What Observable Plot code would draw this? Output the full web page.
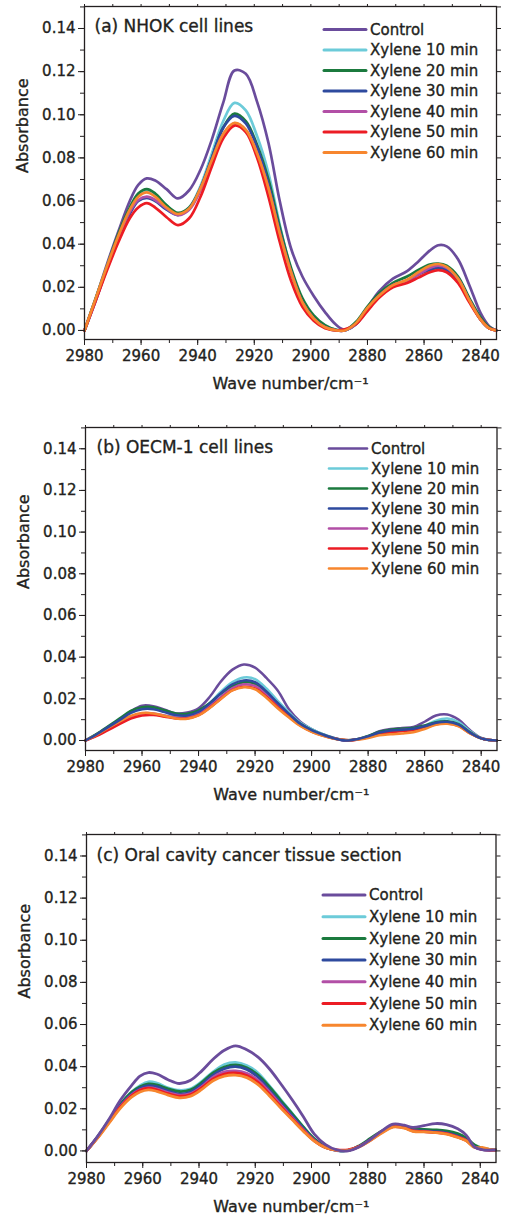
<!DOCTYPE html>
<html><head><meta charset="utf-8">
<script src="https://cdn.jsdelivr.net/npm/d3@7"></script>
<script src="https://cdn.jsdelivr.net/npm/@observablehq/plot@0.6"></script>
<style>
body{margin:0;background:#fff;width:508px;}
#chart svg{display:block}
#chart svg text{stroke:#231f20;stroke-width:0.35px;}
</style></head><body><div id="chart"></div>
<script>
const seriesNames = ["Control","Xylene 10 min","Xylene 20 min","Xylene 30 min","Xylene 40 min","Xylene 50 min","Xylene 60 min"];
const seriesColors = ["#6a4c9c","#6ccbd9","#1b7a3e","#2e4a9e","#b24fa6","#ec1c24","#f7862e"];
const xTickLabels = [2980,2960,2940,2920,2900,2880,2860,2840];
const yTickLabels = [0,0.02,0.04,0.06,0.08,0.10,0.12,0.14];

// ---- Panel (a) NHOK cell lines ----
const wnA = [2980,2976,2972,2968,2964,2961,2958,2955,2951,2947,2943,2939,2935,2931,2927,2923,2919,2915,2911,2907,2903,2899,2895,2891,2888,2884,2880,2876,2871,2866,2862,2858,2855,2852,2848,2844,2840,2837,2834.5];
const aControl = [0,0.015,0.031,0.046,0.060,0.0675,0.0705,0.0695,0.0655,0.0612,0.065,0.0745,0.0885,0.1055,0.1205,0.119,0.106,0.087,0.060,0.038,0.025,0.016,0.0085,0.0025,0.0003,0.003,0.0105,0.018,0.024,0.0275,0.032,0.037,0.0395,0.039,0.033,0.021,0.008,0.002,0];
const a10 = [0,0.015,0.030,0.044,0.056,0.063,0.065,0.063,0.058,0.054,0.057,0.067,0.082,0.097,0.1055,0.102,0.090,0.073,0.049,0.028,0.014,0.006,0.002,0.0003,0,0.003,0.010,0.016,0.021,0.023,0.026,0.029,0.030,0.029,0.024,0.014,0.005,0.001,0];
const a20 = [0,0.015,0.030,0.045,0.057,0.0635,0.0655,0.0635,0.058,0.0545,0.057,0.066,0.080,0.094,0.1005,0.097,0.086,0.070,0.048,0.029,0.015,0.007,0.0025,0.0003,0,0.004,0.011,0.017,0.022,0.025,0.028,0.0305,0.031,0.030,0.025,0.015,0.006,0.0015,0];
const a30 = [0,0.014,0.029,0.043,0.054,0.060,0.0615,0.060,0.056,0.0535,0.0565,0.066,0.080,0.094,0.0995,0.096,0.085,0.068,0.046,0.027,0.013,0.0055,0.0015,0,0,0.003,0.010,0.016,0.021,0.023,0.026,0.028,0.029,0.028,0.023,0.014,0.005,0.001,0];
const a40 = [0,0.014,0.029,0.043,0.055,0.0605,0.062,0.0605,0.0565,0.0535,0.056,0.065,0.078,0.091,0.096,0.093,0.082,0.066,0.045,0.027,0.013,0.0055,0.0015,0,0,0.003,0.010,0.016,0.021,0.023,0.026,0.029,0.030,0.029,0.024,0.014,0.005,0.001,0];
const a50 = [0,0.014,0.028,0.041,0.052,0.057,0.059,0.057,0.0525,0.0488,0.052,0.062,0.076,0.089,0.095,0.092,0.080,0.062,0.041,0.023,0.011,0.0045,0.001,0,0.0005,0.003,0.009,0.015,0.020,0.022,0.0245,0.027,0.028,0.027,0.022,0.013,0.005,0.001,0];
const a60 = [0,0.015,0.030,0.044,0.056,0.062,0.064,0.062,0.057,0.054,0.0565,0.066,0.079,0.091,0.0962,0.093,0.082,0.066,0.045,0.027,0.013,0.0055,0.0015,0,0,0.0035,0.0105,0.016,0.021,0.0235,0.027,0.030,0.0308,0.0295,0.024,0.014,0.005,0.001,0];

// ---- Panel (b) OECM-1 cell lines ----
const wnB = [2980,2976,2972,2968,2964,2960,2956,2952,2948,2944,2940,2936,2932,2928,2924,2920,2916,2912,2908,2904,2900,2896,2892,2888,2884,2880,2876,2872,2868,2864,2860,2856,2852,2848,2844,2840,2837,2834.5];
const bControl = [0,0.003,0.0065,0.010,0.014,0.0167,0.0165,0.0148,0.013,0.0135,0.0155,0.021,0.0285,0.034,0.0365,0.035,0.030,0.024,0.015,0.009,0.0055,0.003,0.0012,0,0.0005,0.002,0.0045,0.0055,0.006,0.0065,0.009,0.012,0.0125,0.010,0.005,0.0012,0.0002,0];
const b10 = [0,0.003,0.0062,0.0098,0.0133,0.0154,0.0153,0.0138,0.012,0.0118,0.0140,0.018,0.0235,0.028,0.0302,0.0295,0.025,0.019,0.0135,0.0085,0.0055,0.003,0.0012,0.0002,0.0005,0.0018,0.0035,0.0045,0.005,0.0055,0.007,0.0095,0.0105,0.0088,0.0045,0.0012,0.0002,0];
const b20 = [0,0.0032,0.0068,0.0105,0.0142,0.0160,0.0160,0.0145,0.0130,0.0128,0.0145,0.018,0.0225,0.026,0.0280,0.0272,0.023,0.0175,0.0125,0.008,0.005,0.0028,0.001,0.0001,0.0006,0.0022,0.0042,0.0052,0.0056,0.006,0.0072,0.0088,0.0092,0.0078,0.004,0.001,0.0002,0];
const b30 = [0,0.003,0.0064,0.0098,0.0132,0.0150,0.0150,0.0136,0.0122,0.0120,0.0138,0.0178,0.0228,0.027,0.0288,0.0280,0.0235,0.018,0.0128,0.008,0.005,0.0028,0.001,0,0.0006,0.002,0.0038,0.0048,0.0052,0.0056,0.0068,0.0085,0.0090,0.0076,0.0038,0.001,0.0002,0];
const b40 = [0,0.0025,0.0055,0.0085,0.0115,0.0130,0.0130,0.0120,0.0110,0.0110,0.0128,0.0165,0.021,0.0252,0.027,0.0262,0.022,0.0168,0.012,0.0075,0.0045,0.0025,0.001,0,0.0005,0.0018,0.0035,0.0045,0.005,0.0054,0.0066,0.0082,0.0087,0.0074,0.0037,0.001,0.0002,0];
const b50 = [0,0.0022,0.005,0.0078,0.0105,0.0120,0.0122,0.0114,0.0106,0.0106,0.0122,0.0158,0.0202,0.0242,0.0258,0.025,0.021,0.016,0.0115,0.0072,0.0043,0.0024,0.001,0.0002,0.0004,0.0015,0.003,0.004,0.0045,0.005,0.0062,0.0078,0.0082,0.007,0.0035,0.001,0.0002,0];
const b60 = [0,0.0028,0.006,0.009,0.0118,0.0132,0.0130,0.0118,0.0106,0.0104,0.0120,0.0156,0.020,0.024,0.0255,0.0246,0.0205,0.0155,0.011,0.007,0.0042,0.0022,0.0008,0.0002,0.0003,0.0012,0.0025,0.003,0.0034,0.004,0.0055,0.0075,0.0080,0.0068,0.0034,0.001,0.0002,0];

// ---- Panel (c) Oral cavity cancer tissue section ----
const wnC = [2980,2976,2972,2968,2964,2961,2958,2955,2951,2947,2943,2939,2935,2931,2927,2923,2919,2915,2911,2907,2903,2899,2895,2891,2887,2883,2879,2875,2871,2867,2864,2860,2856,2852,2848,2845,2842,2839,2836,2834.5];
const cControl = [0,0.007,0.015,0.024,0.031,0.0355,0.0372,0.0365,0.0338,0.0320,0.0335,0.038,0.0435,0.0478,0.0499,0.048,0.0445,0.039,0.032,0.0245,0.0165,0.008,0.003,0.0005,0,0.002,0.0055,0.0095,0.0127,0.0122,0.0112,0.012,0.013,0.0125,0.0105,0.0075,0.0018,0.0005,0.0004,0.0004];
const c10 = [0,0.0068,0.0145,0.022,0.028,0.031,0.0328,0.0322,0.030,0.0288,0.0295,0.033,0.0375,0.041,0.042,0.0405,0.037,0.031,0.0245,0.018,0.0115,0.0055,0.0018,0.0003,0.0002,0.0022,0.0055,0.0092,0.012,0.0115,0.010,0.0095,0.0092,0.0085,0.007,0.0052,0.002,0.0006,0.0004,0.0004];
const c20 = [0,0.0068,0.0145,0.022,0.0278,0.0305,0.0318,0.0313,0.0295,0.0282,0.029,0.0325,0.037,0.0398,0.0408,0.0395,0.036,0.0305,0.024,0.0178,0.0115,0.0058,0.002,0.0003,0.0002,0.0025,0.006,0.0095,0.0122,0.0118,0.0105,0.0102,0.0100,0.0095,0.0082,0.0062,0.0028,0.0012,0.0006,0.0005];
const c30 = [0,0.0067,0.014,0.0215,0.027,0.0298,0.031,0.0305,0.0285,0.027,0.028,0.0315,0.036,0.039,0.040,0.0387,0.035,0.029,0.0228,0.0168,0.0108,0.0052,0.0016,0.0002,0.0002,0.0022,0.0055,0.009,0.0118,0.0112,0.0098,0.0095,0.0092,0.0086,0.007,0.0052,0.002,0.0006,0.0004,0.0004];
const c40 = [0,0.0065,0.0138,0.021,0.0265,0.029,0.030,0.0295,0.0277,0.0265,0.0272,0.0305,0.035,0.0375,0.038,0.0368,0.0335,0.028,0.022,0.016,0.0102,0.005,0.0016,0.0003,0.0003,0.002,0.0052,0.0088,0.0115,0.011,0.0095,0.0092,0.0088,0.0082,0.0066,0.005,0.0018,0.0006,0.0004,0.0004];
const c50 = [0,0.0064,0.0136,0.0208,0.0262,0.0288,0.0298,0.029,0.0272,0.026,0.0268,0.030,0.0342,0.0365,0.037,0.0358,0.0325,0.027,0.0212,0.0155,0.0098,0.0048,0.0016,0.0005,0.0005,0.0022,0.0052,0.0088,0.0115,0.011,0.0095,0.0092,0.0088,0.0082,0.0066,0.005,0.0018,0.0006,0.0004,0.0004];
const c60 = [0,0.0062,0.0132,0.0202,0.0255,0.028,0.029,0.0283,0.0265,0.0252,0.026,0.0292,0.0333,0.0355,0.036,0.0348,0.0315,0.0262,0.0205,0.015,0.0095,0.0046,0.0015,0.0003,0.0003,0.002,0.005,0.0085,0.0113,0.0108,0.0093,0.009,0.0087,0.008,0.0064,0.0048,0.0016,0.0016,0.0005,0.0004];

const INK = "#231f20";
const FONT = "DejaVu Sans, sans-serif";

function panel(o) {
  const data = [];
  o.values.forEach((vals, s) => vals.forEach((v, i) => data.push({w: o.wn[i], a: v, s: seriesNames[s]})));
  const lines = o.order.map(k => Plot.line(data.filter(d => d.s === seriesNames[k]), {
    x: "w", y: "a", stroke: "s", strokeWidth: o.lw, curve: "catmull-rom"
  }));
  const yMinor = d3.range(0, 0.1501, 0.01);
  const xMinor = d3.range(2840, 2981, 10);
  const plot = Plot.plot({
    width: 508, height: o.height,
    marginTop: o.mt, marginBottom: o.mb, marginLeft: o.ml, marginRight: o.mr,
    style: {fontFamily: FONT, fontSize: "15px", color: INK, background: "white", overflow: "visible"},
    x: {domain: [2980, 2834.4], axis: null},
    y: {domain: [o.yMin, 0.1502], axis: null},
    color: {domain: seriesNames, range: seriesColors},
    marks: [
      ...lines,
      Plot.frame({stroke: INK, strokeWidth: 1.3}),
      Plot.axisX({anchor: "bottom", ticks: xMinor, tickSize: 4, tickFormat: () => "", label: null, stroke: INK}),
      Plot.axisX({anchor: "bottom", ticks: xTickLabels, tickSize: 6, tickPadding: 5, tickFormat: d => String(d), label: null, stroke: INK, fill: INK}),
      Plot.axisX({anchor: "top", ticks: xMinor, tickSize: 3, tickFormat: () => "", label: null, stroke: INK}),
      Plot.axisY({anchor: "left", ticks: yMinor, tickSize: 4, tickFormat: () => "", label: null, stroke: INK}),
      Plot.axisY({anchor: "left", ticks: yTickLabels, tickSize: 6, tickPadding: 3, tickFormat: d3.format(".2f"), label: null, stroke: INK, fill: INK}),
      Plot.axisY({anchor: "right", ticks: yMinor, tickSize: 4, tickFormat: () => "", label: null, stroke: INK}),
      Plot.text(["Absorbance"], {frameAnchor: "left", dx: -62, rotate: -90, fontSize: 16, fill: INK}),
      Plot.text(["Wave number/cm\u207B\u00B9"], {frameAnchor: "bottom", dy: 49, fontSize: 16, fill: INK}),
      Plot.text([o.title], {frameAnchor: "top-left", dx: o.tdx, dy: o.tdy, fontSize: 17, textAnchor: "start", lineAnchor: "middle", fill: INK})
    ]
  });
  // legend inside the frame
  const svg = d3.select(plot);
  const g = svg.append("g").attr("font-family", FONT).attr("font-size", 15).attr("fill", INK).attr("text-anchor", "start");
  seriesNames.forEach((name, i) => {
    const y = o.legY + i * o.legStep;
    g.append("line").attr("x1", o.legX1).attr("x2", o.legX2).attr("y1", y).attr("y2", y)
      .attr("stroke", seriesColors[i]).attr("stroke-width", o.legLw).attr("stroke-linecap", "round");
    g.append("text").attr("x", o.legX2 + 4).attr("y", y).attr("dy", "0.35em").attr("text-anchor", "start").text(name);
  });
  return plot;
}

const chart = document.getElementById("chart");
chart.append(panel({
  title: "(a) NHOK cell lines", wn: wnA, values: [aControl, a10, a20, a30, a40, a50, a60],
  order: [0, 1, 2, 3, 4, 5, 6], lw: 2.7,
  height: 400, mt: 6, mb: 61, ml: 84, mr: 12, yMin: -0.0042,
  tdx: 10, tdy: 20,
  legX1: 324, legX2: 366, legY: 29.5, legStep: 20.5, legLw: 3
}));
chart.append(panel({
  title: "(b) OECM-1 cell lines", wn: wnB, values: [bControl, b10, b20, b30, b40, b50, b60],
  order: [0, 1, 2, 4, 5, 6, 3], lw: 2.5,
  height: 410, mt: 27, mb: 60, ml: 85, mr: 11.5, yMin: -0.0048,
  tdx: 11, tdy: 20,
  legX1: 329, legX2: 367, legY: 48.5, legStep: 20, legLw: 2.6
}));
chart.append(panel({
  title: "(c) Oral cavity cancer tissue section", wn: wnC, values: [cControl, c10, c20, c30, c40, c50, c60],
  order: [1, 2, 3, 4, 5, 6, 0], lw: 2.8,
  height: 410, mt: 24, mb: 58, ml: 86, mr: 12.5, yMin: -0.0055,
  tdx: 10, tdy: 21,
  legX1: 323, legX2: 365, legY: 85, legStep: 21.7, legLw: 3
}));
</script>
</body></html>
